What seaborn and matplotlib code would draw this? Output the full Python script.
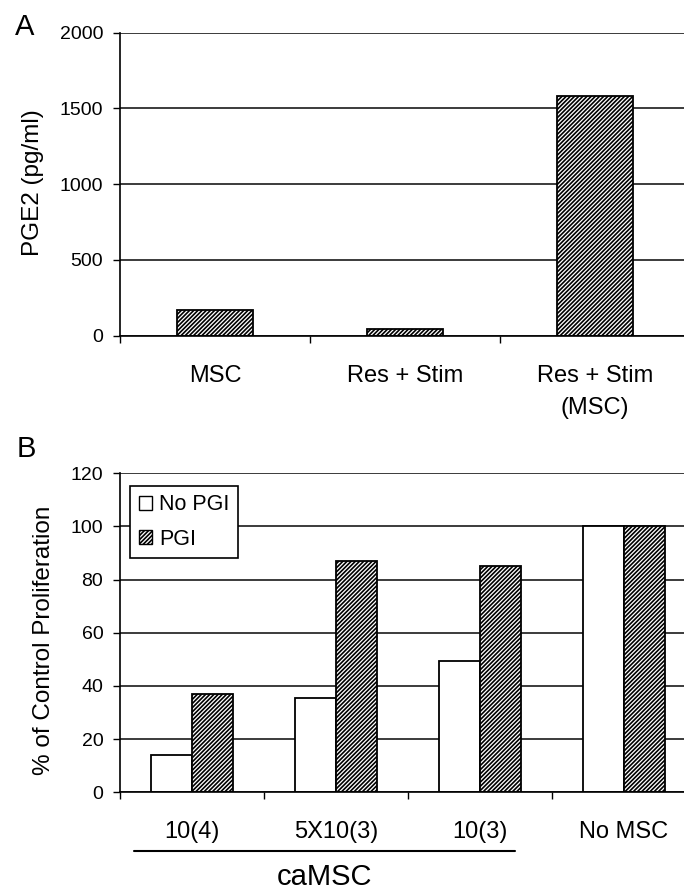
import matplotlib
matplotlib.use("Agg")
import matplotlib.pyplot as plt
import matplotlib.transforms as mtransforms
from matplotlib.patches import Patch
import seaborn as sns
import pandas as pd
import numpy as np

# ---- data ----
a_categories = ["MSC", "Res + Stim", "Res + Stim\n(MSC)"]
a_values = [170, 46, 1585]

b_categories = ["10(4)", "5X10(3)", "10(3)", "No MSC"]
b_series = ["No PGI", "PGI"]
b_no_pgi = [14, 35.5, 49.5, 100]
b_pgi = [37, 87, 85, 100]

a_yticks = [0, 500, 1000, 1500, 2000]
b_yticks = [0, 20, 40, 60, 80, 100, 120]

sns.set_theme(style="white")
plt.rcParams["font.family"] = ["Liberation Sans", "DejaVu Sans"]
plt.rcParams["hatch.color"] = "black"
plt.rcParams["hatch.linewidth"] = 1.2
plt.rcParams["text.color"] = "black"
plt.rcParams["xtick.color"] = "black"
plt.rcParams["ytick.color"] = "black"
plt.rcParams["axes.labelcolor"] = "black"

HATCH = "////////"
GRID_C = "#1a1a1a"

fig = plt.figure(figsize=(6.84, 8.92), dpi=100)

# ---------- Panel A ----------
axA = fig.add_axes([0.1754, 0.6237, 0.8333, 0.3397])
sns.barplot(x=a_categories, y=a_values, ax=axA, color="white",
            edgecolor="black", linewidth=1.3, width=0.4, saturation=1)
for bar in axA.patches:
    bar.set_hatch(HATCH)
    bar.set_facecolor("white")
    bar.set_edgecolor("black")

# ---------- Panel B ----------
df = pd.DataFrame({
    "cat": b_categories * 2,
    "series": [b_series[0]] * len(b_categories) + [b_series[1]] * len(b_categories),
    "val": b_no_pgi + b_pgi,
})
axB = fig.add_axes([0.1754, 0.1118, 0.8421, 0.3576])
sns.barplot(data=df, x="cat", y="val", hue="series", hue_order=b_series,
            order=b_categories, palette=["white", "white"], saturation=1,
            edgecolor="black", linewidth=1.3, width=0.57, gap=0,
            legend=False, ax=axB)
for bar in axB.containers[1]:
    bar.set_hatch(HATCH)

# ---------- common styling ----------
def style(ax, labels, yticks, ylabel, label_xy, ymax):
    n = len(labels)
    ax.set_xlim(-0.5, n - 0.5)
    ax.set_ylim(0, ymax)
    ax.set_xticks(np.arange(n + 1) - 0.5)
    ax.set_xticklabels([""] * (n + 1))
    ax.set_xticks(np.arange(n), minor=True)
    ax.set_xticklabels(labels, minor=True, linespacing=1.6)
    ax.tick_params(axis="x", which="major", bottom=True, length=5, width=1,
                   direction="out", color="black")
    ax.tick_params(axis="x", which="minor", bottom=True, length=0, pad=21,
                   labelsize=17)
    ax.set_yticks(yticks)
    ax.tick_params(axis="y", left=True, length=5, width=1, direction="out",
                   pad=7, labelsize=14, color="black")
    ax.yaxis.grid(True, color=GRID_C, lw=1.2)
    ax.xaxis.grid(False)
    ax.set_axisbelow(True)
    for s in ["top", "right"]:
        ax.spines[s].set_visible(False)
    for s in ["left", "bottom"]:
        ax.spines[s].set_color("black")
        ax.spines[s].set_linewidth(1.2)
    ax.set_xlabel("")
    ax.set_ylabel(ylabel, fontsize=17.5)
    ax.yaxis.set_label_coords(*label_xy)
    ax.set_facecolor("white")

style(axA, a_categories, a_yticks, "PGE2 (pg/ml)", (-0.133, 0.506), 2000)
style(axB, b_categories, b_yticks, "% of Control Proliferation", (-0.113, 0.475), 120)

# legend
handles = [Patch(facecolor="white", edgecolor="black", linewidth=1.0, label=b_series[0]),
           Patch(facecolor="white", edgecolor="black", linewidth=1.0, hatch=HATCH, label=b_series[1])]
leg = axB.legend(handles=handles, loc="upper left", bbox_to_anchor=(0.0174, 0.961),
                 borderaxespad=0, fontsize=15.5, frameon=True, fancybox=False,
                 handlelength=0.6, handleheight=0.6, handletextpad=0.35,
                 borderpad=0.4, labelspacing=0.62)
leg.get_frame().set_edgecolor("black")
leg.get_frame().set_linewidth(1.2)
leg.get_frame().set_facecolor("white")
leg.get_frame().set_alpha(1)

# caMSC bracket
trans = mtransforms.blended_transform_factory(axB.transData, axB.transAxes)
axB.plot([-0.4, 2.24], [-0.183, -0.183], transform=trans, color="black",
         lw=1.5, clip_on=False)
axB.text(0.92, -0.29, "caMSC", transform=trans, ha="center", va="baseline",
         fontsize=21)

# panel letters
fig.text(15 / 684, 1 - 35 / 892, "A", fontsize=21, va="baseline", ha="left")
fig.text(17 / 684, 1 - 457 / 892, "B", fontsize=21, va="baseline", ha="left")

fig.savefig("out.png", dpi=100, facecolor="white")
